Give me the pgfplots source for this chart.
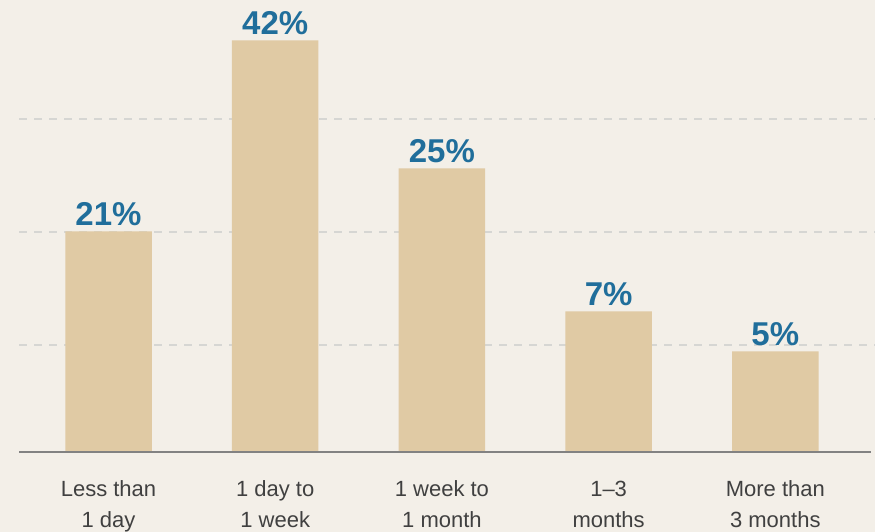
\documentclass[border=0pt]{standalone}
\usepackage{pgfplots}
\pgfplotsset{compat=1.18}
\usepackage{fontspec}
\setmainfont{Liberation Sans}
\definecolor{bg}{RGB}{243,239,232}
\definecolor{barc}{RGB}{224,202,164}
\definecolor{blu}{RGB}{32,110,155}
\definecolor{txt}{RGB}{64,64,64}
\definecolor{gridc}{RGB}{214,214,211}
\definecolor{basec}{RGB}{130,130,130}
\begin{document}
\begin{tikzpicture}
\fill[bg] (-19pt,-81pt) rectangle (856pt,451pt);
\begin{axis}[at={(0,0)}, anchor=south west, scale only axis,
  width=856pt, height=451pt,
  xmin=-0.537, xmax=4.598, ymin=0, ymax=451,
  enlargelimits=false,
  axis line style={draw=none},
  ytick={105.5,218.8,332}, yticklabels={},
  ymajorgrids,
  major grid style={draw=gridc, line width=2pt, dash pattern=on 8pt off 7pt},
  major tick length=0pt,
  xtick={0,...,4},
  xticklabels={\vphantom{Ld}Less than\\1 day, \vphantom{Ld}1 day to\\1 week, \vphantom{Ld}1 week to\\1 month, \vphantom{Ld}1--3\\months, \vphantom{Ld}More than\\3 months},
  xticklabel style={align=center, font=\fontsize{22}{31}\selectfont, text=txt, anchor=north, yshift=-26pt},
  ybar, bar width=86.5pt,
  point meta=explicit symbolic,
  nodes near coords,
  nodes near coords style={font=\fontsize{33}{36}\selectfont\bfseries, text=blu, anchor=base, yshift=5.5pt, inner sep=0pt},
  clip=false]
\addplot[fill=barc, draw=none] coordinates {(0,219.5) [21\%] (1,410.5) [42\%] (2,282.5) [25\%] (3,139.5) [7\%] (4,99.5) [5\%]};
\draw[line width=2pt, basec] (axis cs:-0.537,-0.5) -- (axis cs:4.575,-0.5);
\end{axis}
\pgfresetboundingbox
\path[use as bounding box] (-19pt,-81pt) rectangle (856pt,451pt);
\end{tikzpicture}
\end{document}
